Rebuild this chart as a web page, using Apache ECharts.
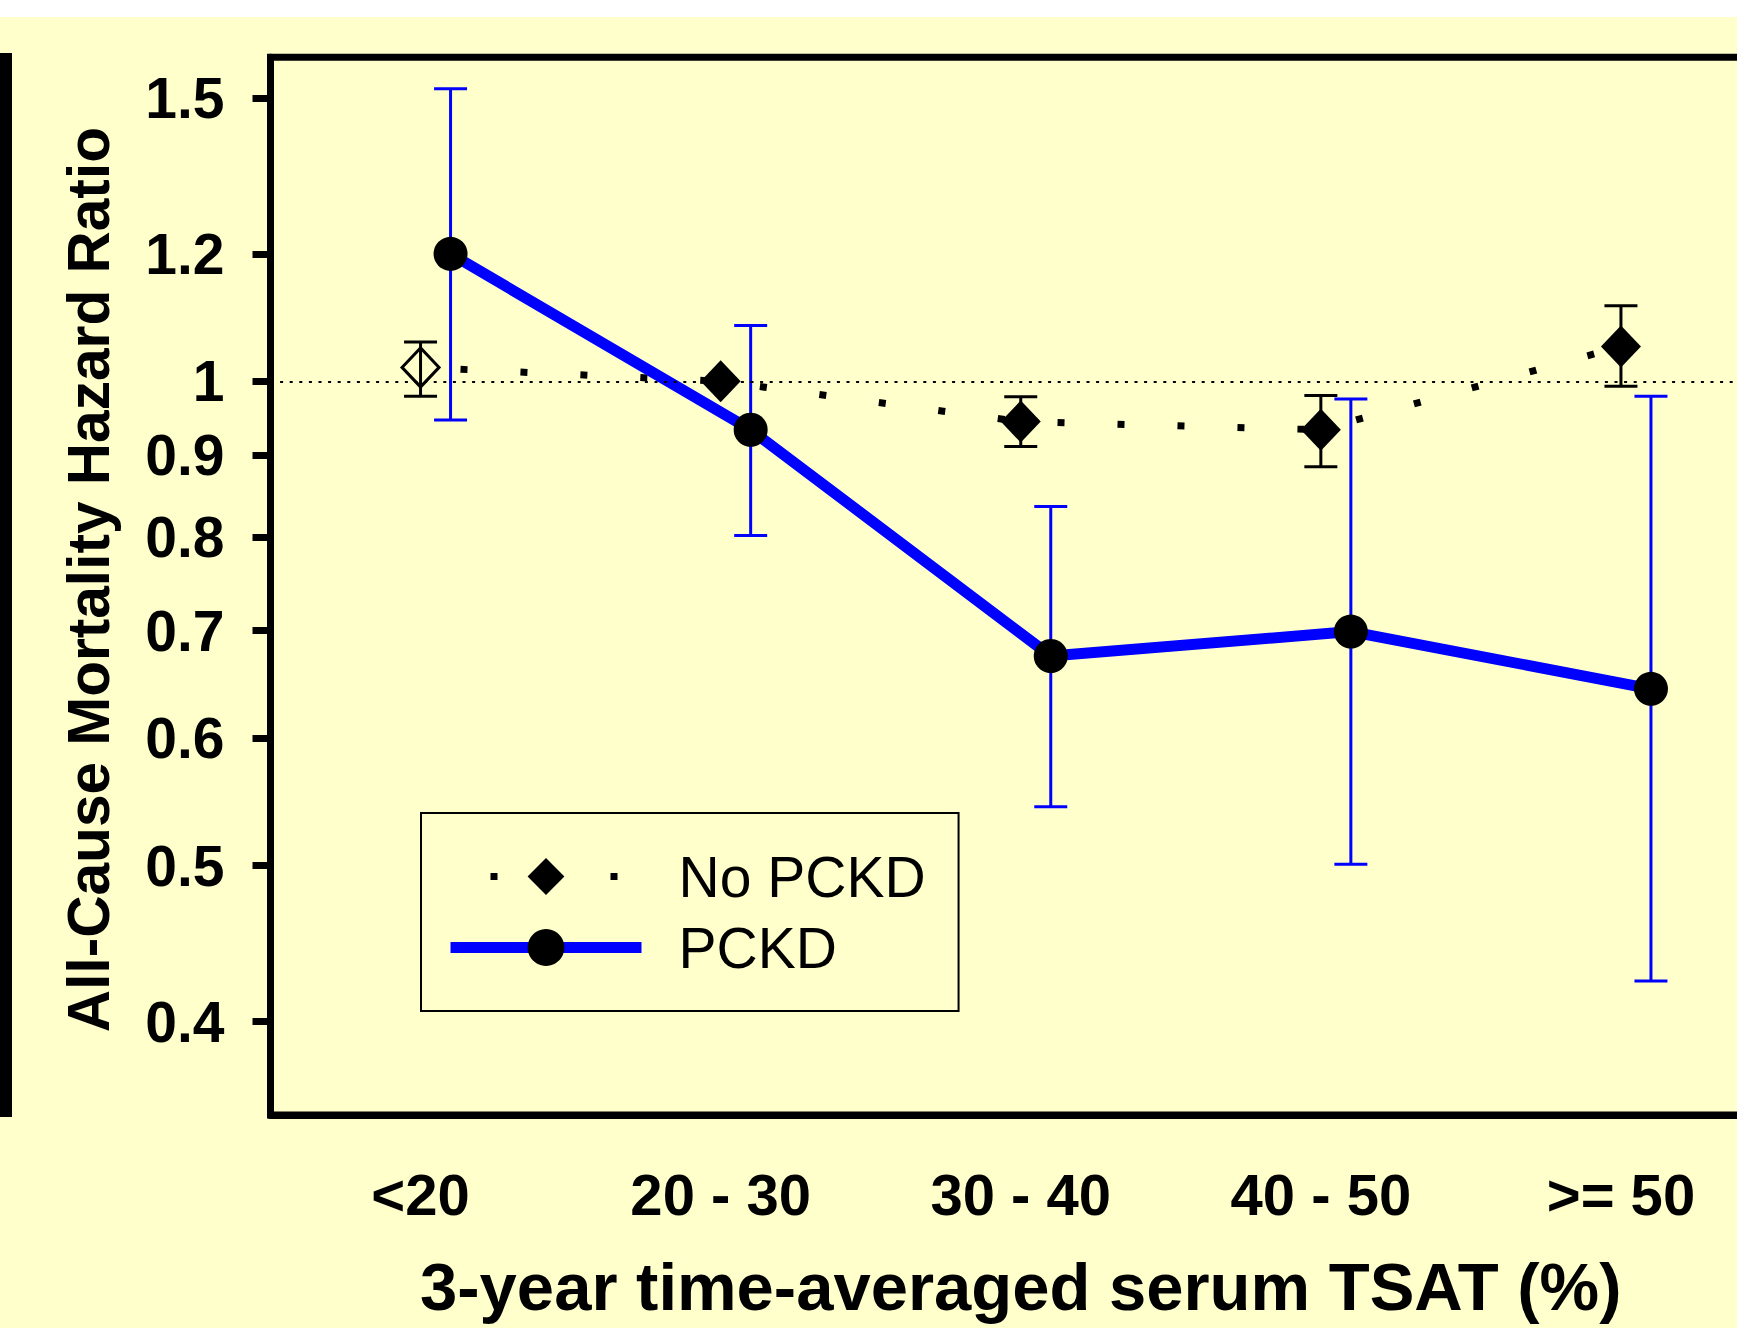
<!DOCTYPE html>
<html>
<head>
<meta charset="utf-8">
<script src="https://cdn.jsdelivr.net/npm/echarts@6/dist/echarts.min.js"></script>
<style>
html, body { margin: 0; padding: 0; background: #ffffff; }
#chart { width: 1737px; height: 1328px; }
</style>
</head>
<body>
<div id="chart"></div>
<script>
// ---------------- DATA ----------------
const categories = ['<20', '20 - 30', '30 - 40', '40 - 50', '>= 50'];
const noPckdHR   = [1.02, 1.00, 0.944, 0.933, 1.051];
const noPckdLow  = [0.979, null, 0.911, 0.885, 0.993];
const noPckdHigh = [1.058, null, 0.978, 0.98, 1.114];
const pckdHR     = [1.20, 0.933, 0.675, 0.699, 0.644];
const pckdLow    = [0.946, 0.802, 0.544, 0.501, 0.424];
const pckdHigh   = [1.52, 1.083, 0.836, 0.975, 0.979];
const yTickValues = [0.4, 0.5, 0.6, 0.7, 0.8, 0.9, 1, 1.2, 1.5];
const referenceHR = 1;
const yRange = [0.35, 1.59];
const seriesNames = ['No PCKD', 'PCKD'];
const xTitle = '3-year time-averaged serum TSAT (%)';
const yTitle = 'All-Cause Mortality Hazard Ratio';

// ---------------- STYLE ----------------
const FONT = '"Liberation Sans", Arial, Helvetica, sans-serif';
const BLUE = '#0000FF';
const BG = '#FFFFCC';
const PCKD_SHIFT = 0.1;      // horizontal dodge of PCKD markers (in category units)
const HOLLOW_INDEX = 0;      // first No PCKD marker is drawn open

const lg = v => Math.log10(v);

function errorBars(name, shift, lows, highs, color) {
  const data = [];
  lows.forEach((lo, i) => {
    if (lo != null && highs[i] != null) data.push([i + shift, lg(lo), lg(highs[i])]);
  });
  return {
    type: 'custom',
    name: name,
    xAxisIndex: 1,
    yAxisIndex: 0,
    z: 3,
    silent: true,
    encode: { x: 0, y: [1, 2] },
    data: data,
    renderItem: function (params, api) {
      const x = api.value(0);
      const a = api.coord([x, api.value(1)]);
      const b = api.coord([x, api.value(2)]);
      const cap = 16.5;
      const st = { stroke: color, lineWidth: 3 };
      return {
        type: 'group',
        children: [
          { type: 'line', shape: { x1: a[0], y1: a[1], x2: b[0], y2: b[1] }, style: st },
          { type: 'line', shape: { x1: a[0] - cap, y1: a[1], x2: a[0] + cap, y2: a[1] }, style: st },
          { type: 'line', shape: { x1: b[0] - cap, y1: b[1], x2: b[0] + cap, y2: b[1] }, style: st }
        ]
      };
    }
  };
}

const noPckdData = noPckdHR.map((v, i) => {
  if (i === HOLLOW_INDEX) {
    return {
      value: [i, lg(v)],
      symbolSize: [37, 39],
      itemStyle: { color: 'rgba(0,0,0,0)', borderColor: '#000', borderWidth: 3 }
    };
  }
  return [i, lg(v)];
});
const pckdData = pckdHR.map((v, i) => [i + PCKD_SHIFT, lg(v)]);

const tickLogs = yTickValues.map(lg);

const option = {
  backgroundColor: BG,
  animation: false,
  textStyle: { fontFamily: FONT },
  grid: {
    left: 270.5, top: 57.2, right: -34, bottom: 213,
    outerBoundsMode: 'none',
    containLabel: false,
    show: true, borderColor: '#000', borderWidth: 7, backgroundColor: 'transparent'
  },
  xAxis: [
    {
      type: 'category',
      data: categories,
      boundaryGap: true,
      position: 'bottom',
      axisLine: { onZero: false, lineStyle: { color: '#000', width: 7 } },
      axisTick: { alignWithLabel: true, length: 17, lineStyle: { color: '#000', width: 4 } },
      axisLabel: { margin: 50, fontSize: 58, fontWeight: 'bold', color: '#000', fontFamily: FONT },
      splitLine: { show: false },
      name: xTitle,
      nameLocation: 'middle',
      nameGap: 138,
      nameTextStyle: { fontSize: 67, fontWeight: 'bold', color: '#000', fontFamily: FONT }
    },
    {
      type: 'value',
      min: -0.5,
      max: categories.length - 0.5,
      show: false,
      axisLine: { onZero: false }
    }
  ],
  yAxis: {
    type: 'value',
    min: lg(yRange[0]),
    max: lg(yRange[1]),
    axisLine: { show: true, onZero: false, lineStyle: { color: '#000', width: 7 } },
    axisTick: { show: true, length: 18, customValues: tickLogs, lineStyle: { color: '#000', width: 7 } },
    axisLabel: {
      margin: 46, fontSize: 57, fontWeight: 'bold', color: '#000', fontFamily: FONT,
      customValues: tickLogs,
      formatter: function (v) {
        let best = yTickValues[0], d = Infinity;
        yTickValues.forEach(t => { const dd = Math.abs(lg(t) - v); if (dd < d) { d = dd; best = t; } });
        return String(best);
      }
    },
    splitLine: { show: false },
    name: yTitle,
    nameLocation: 'middle',
    nameGap: 153,
    nameTextStyle: { fontSize: 58.6, fontWeight: 'bold', color: '#000', fontFamily: FONT, padding: [0, 0, 0, 13] }
  },
  legend: {
    data: seriesNames,
    orient: 'vertical',
    left: 421,
    top: 813,
    itemWidth: 191,
    itemHeight: 46,
    itemGap: 14,
    padding: [35, 33, 35, 24],
    borderColor: '#000',
    borderWidth: 2,
    selectedMode: false,
    lineStyle: { width: 'inherit' },
    textStyle: { fontSize: 57, color: '#000', fontFamily: FONT, padding: [0, 0, 0, 32] }
  },
  series: [
    {
      type: 'line',
      name: seriesNames[0],
      xAxisIndex: 1,
      yAxisIndex: 0,
      z: 4,
      data: noPckdData,
      symbol: 'diamond',
      symbolSize: [40, 42],
      itemStyle: { color: '#000' },
      lineStyle: { color: '#000', width: 7, type: [7, 53], dashOffset: 20, cap: 'butt' },
      markLine: {
        silent: true,
        symbol: ['none', 'none'],
        label: { show: false },
        lineStyle: { color: '#000', width: 2, type: [3, 6.6] },
        data: [{ yAxis: lg(referenceHR) }]
      }
    },
    {
      type: 'line',
      name: seriesNames[1],
      xAxisIndex: 1,
      yAxisIndex: 0,
      z: 4,
      data: pckdData,
      symbol: 'circle',
      symbolSize: 34,
      itemStyle: { color: '#000' },
      lineStyle: { color: BLUE, width: 11 }
    },
    errorBars('No PCKD CI', 0, noPckdLow, noPckdHigh, '#000'),
    errorBars('PCKD CI', PCKD_SHIFT, pckdLow, pckdHigh, BLUE)
  ],
  graphic: [
    { type: 'rect', left: 0, top: 0, shape: { width: 1737, height: 17 }, style: { fill: '#ffffff' }, z: 100 },
    { type: 'rect', left: 0, top: 53, shape: { width: 12, height: 1064 }, style: { fill: '#000' }, z: 100 }
  ]
};

const chart = echarts.init(document.getElementById('chart'), null, { renderer: 'svg', width: 1737, height: 1328 });
chart.setOption(option);
</script>
</body>
</html>
